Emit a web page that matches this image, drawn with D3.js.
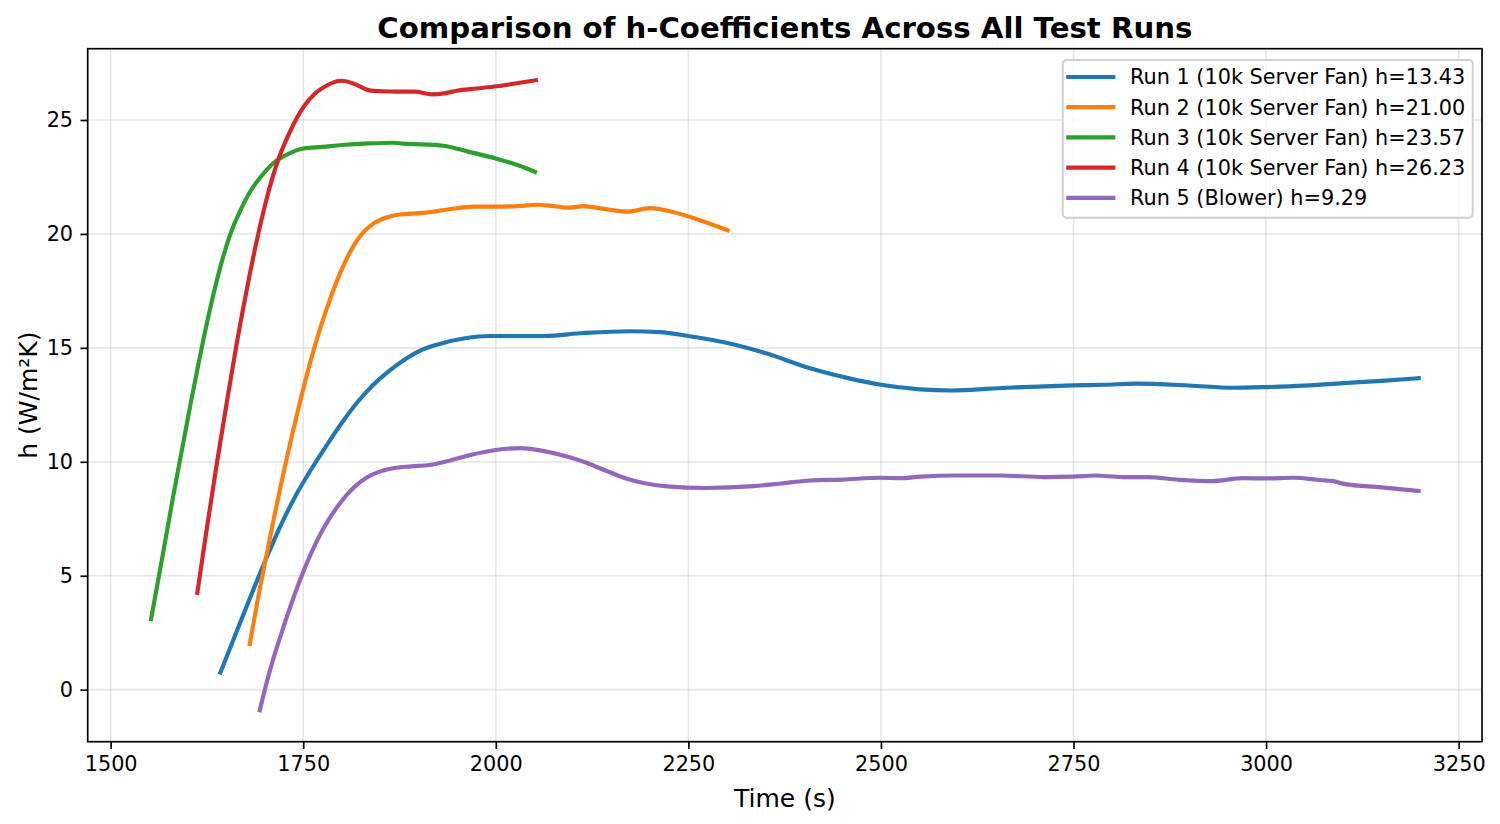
<!DOCTYPE html>
<html>
<head>
<meta charset="utf-8">
<script src="https://cdn.jsdelivr.net/npm/d3@7"></script>
<style>
  body { margin: 0; background: #fff; }
  text { font-family: "DejaVu Sans", sans-serif; fill: #000; }
</style>
</head>
<body>
<div id="chart"></div>
<script>
// h-coefficient curves, [time (s), h (W/m²K)]
const run1 = [[1642.5,0.75],[1660,2.25],[1680,3.95],[1700,5.6],[1720,7.15],[1740,8.5],[1760,9.65],[1780,10.7],[1800,11.7],[1820,12.6],[1840,13.35],[1860,13.95],[1880,14.45],[1900,14.85],[1927,15.17],[1960,15.42],[1992,15.52],[2030,15.52],[2062,15.52],[2114,15.65],[2174,15.73],[2213,15.69],[2250,15.52],[2308,15.16],[2352,14.75],[2408,14.1],[2460,13.65],[2500,13.38],[2551,13.18],[2590,13.13],[2664,13.25],[2750,13.35],[2790,13.38],[2831,13.43],[2900,13.35],[2957,13.25],[3001,13.28],[3050,13.34],[3100,13.45],[3150,13.55],[3198,13.67]];
const run2 = [[1680.6,2.0],[1691,3.95],[1702,5.85],[1713,7.7],[1724,9.45],[1735,11.1],[1746,12.65],[1759,14.35],[1772,15.85],[1785,17.15],[1797,18.2],[1810,19.15],[1825,19.95],[1841,20.45],[1858,20.72],[1875,20.85],[1906,20.92],[1940,21.08],[1971,21.2],[2000,21.2],[2030,21.22],[2053,21.28],[2075,21.22],[2096,21.15],[2114,21.22],[2140,21.1],[2172,20.98],[2200,21.13],[2230,20.96],[2265,20.6],[2301,20.16]];
const run3 = [[1552.5,3.1],[1567,5.8],[1581,8.45],[1603,12.4],[1614,14.3],[1627,16.4],[1642,18.5],[1655,19.95],[1668,21.0],[1681,21.85],[1696,22.55],[1711,23.1],[1730,23.5],[1750,23.75],[1775,23.82],[1800,23.9],[1835,23.97],[1867,24.0],[1880,23.96],[1895,23.94],[1932,23.87],[1965,23.6],[2001,23.3],[2030,23.0],[2051,22.72]];
const run4 = [[1612.5,4.25],[1625,7.1],[1638,9.95],[1651,12.65],[1664,15.25],[1677,17.6],[1690,19.75],[1703,21.6],[1717,23.2],[1733,24.5],[1750,25.55],[1765,26.15],[1780,26.5],[1790,26.66],[1800,26.72],[1815,26.6],[1836,26.3],[1852,26.26],[1871,26.24],[1895,26.24],[1917,26.12],[1935,26.18],[1949,26.28],[1975,26.38],[2001,26.48],[2025,26.6],[2052,26.745]];
const run5 = [[1693.6,-0.9],[1706,0.75],[1720,2.3],[1737,4.0],[1754,5.5],[1775,7.0],[1797,8.15],[1815,8.85],[1832,9.3],[1850,9.58],[1867,9.72],[1890,9.8],[1914,9.86],[1940,10.05],[1971,10.33],[2000,10.52],[2032,10.6],[2063,10.47],[2090,10.25],[2114,10.0],[2140,9.65],[2170,9.26],[2195,9.05],[2222,8.92],[2272,8.85],[2335,8.93],[2370,9.05],[2408,9.18],[2450,9.22],[2499,9.3],[2525,9.28],[2551,9.35],[2599,9.4],[2655,9.4],[2711,9.33],[2750,9.35],[2778,9.4],[2813,9.33],[2845,9.33],[2887,9.21],[2929,9.15],[2971,9.28],[3000,9.27],[3036,9.3],[3070,9.2],[3087,9.15],[3101,9.03],[3150,8.88],[3198,8.72]];

const runLabels = [
  "Run 1 (10k Server Fan) h=13.43",
  "Run 2 (10k Server Fan) h=21.00",
  "Run 3 (10k Server Fan) h=23.57",
  "Run 4 (10k Server Fan) h=26.23",
  "Run 5 (Blower) h=9.29"
];
const xTicks = [1500, 1750, 2000, 2250, 2500, 2750, 3000, 3250];
const yTicks = [0, 5, 10, 15, 20, 25];

const runs = [run1, run2, run3, run4, run5];
const colors = ["#1f77b4", "#ff7f0e", "#2ca02c", "#d62728", "#9467bd"];

const width = 1500, height = 824;
const margin = { top: 48.7, right: 18, bottom: 82.3, left: 87.7 };
const innerW = width - margin.left - margin.right;
const innerH = height - margin.top - margin.bottom;

const svg = d3.select("#chart").append("svg")
  .attr("width", width)
  .attr("height", height);

// matplotlib style 5% padding around the data
const allPts = runs.flat();
const [xMin, xMax] = d3.extent(allPts, d => d[0]);
const [yMin, yMax] = d3.extent(allPts, d => d[1]);
const xPad = (xMax - xMin) * 0.05, yPad = (yMax - yMin) * 0.05;

const x = d3.scaleLinear().domain([xMin - xPad, xMax + xPad]).range([0, innerW]);
const y = d3.scaleLinear().domain([yMin - yPad, yMax + yPad]).range([innerH, 0]);

const g = svg.append("g").attr("transform", `translate(${margin.left},${margin.top})`);

// grid
g.append("g").selectAll("line")
  .data(xTicks).enter().append("line")
  .attr("x1", d => x(d)).attr("x2", d => x(d))
  .attr("y1", 0).attr("y2", innerH)
  .attr("stroke", "#b0b0b0").attr("stroke-opacity", 0.3).attr("stroke-width", 1.67);
g.append("g").selectAll("line")
  .data(yTicks).enter().append("line")
  .attr("x1", 0).attr("x2", innerW)
  .attr("y1", d => y(d)).attr("y2", d => y(d))
  .attr("stroke", "#b0b0b0").attr("stroke-opacity", 0.3).attr("stroke-width", 1.67);

// lines
const line = d3.line()
  .x(d => x(d[0]))
  .y(d => y(d[1]))
  .curve(d3.curveMonotoneX);

g.append("g").selectAll("path")
  .data(runs).enter().append("path")
  .attr("d", line)
  .attr("fill", "none")
  .attr("stroke", (d, i) => colors[i])
  .attr("stroke-width", 4.17)
  .attr("stroke-linecap", "square")
  .attr("stroke-linejoin", "round");

// axes
const xAxis = g.append("g").attr("transform", `translate(0,${innerH})`)
  .call(d3.axisBottom(x).tickValues(xTicks).tickSize(7.3).tickPadding(7.3).tickFormat(d3.format("d")));
const yAxis = g.append("g")
  .call(d3.axisLeft(y).tickValues(yTicks).tickSize(7.3).tickPadding(7.3).tickFormat(d3.format("d")));

[xAxis, yAxis].forEach(ax => {
  ax.select(".domain").remove();
  ax.selectAll(".tick line").attr("stroke", "#000").attr("stroke-width", 1.67);
  ax.selectAll(".tick text")
    .style("font-family", "DejaVu Sans, sans-serif")
    .style("font-size", "20.8px")
    .attr("fill", "#000");
});

// frame
g.append("rect")
  .attr("width", innerW).attr("height", innerH)
  .attr("fill", "none").attr("stroke", "#000").attr("stroke-width", 1.67);

// title and labels
svg.append("text")
  .attr("x", margin.left + innerW / 2).attr("y", 37.5)
  .attr("text-anchor", "middle")
  .style("font-size", "29.2px").style("font-weight", "bold")
  .text("Comparison of h-Coefficients Across All Test Runs");

svg.append("text")
  .attr("x", margin.left + innerW / 2).attr("y", 806.5)
  .attr("text-anchor", "middle")
  .style("font-size", "25px")
  .text("Time (s)");

svg.append("text")
  .attr("transform", `translate(36.5,${margin.top + innerH / 2}) rotate(-90)`)
  .attr("text-anchor", "middle")
  .style("font-size", "25px")
  .text("h (W/m²K)");

// legend
const legW = 410, legH = 157.7, rowH = 30.2;
const legend = g.append("g")
  .attr("transform", `translate(${innerW - 9.3 - legW},${11.3})`);

legend.append("rect")
  .attr("width", legW).attr("height", legH)
  .attr("rx", 4).attr("ry", 4)
  .attr("fill", "#fff").attr("fill-opacity", 0.8)
  .attr("stroke", "#d0d0d0").attr("stroke-width", 2);

const rows = legend.selectAll("g.row")
  .data(runLabels).enter().append("g")
  .attr("class", "row")
  .attr("transform", (d, i) => `translate(0,${17 + i * rowH})`);

rows.append("line")
  .attr("x1", 5.6).attr("x2", 50.6)
  .attr("stroke", (d, i) => colors[i])
  .attr("stroke-width", 4.17)
  .attr("stroke-linecap", "square");

rows.append("text")
  .attr("x", 67.3).attr("y", 7.3)
  .style("font-size", "20.8px")
  .text(d => d);
</script>
</body>
</html>
